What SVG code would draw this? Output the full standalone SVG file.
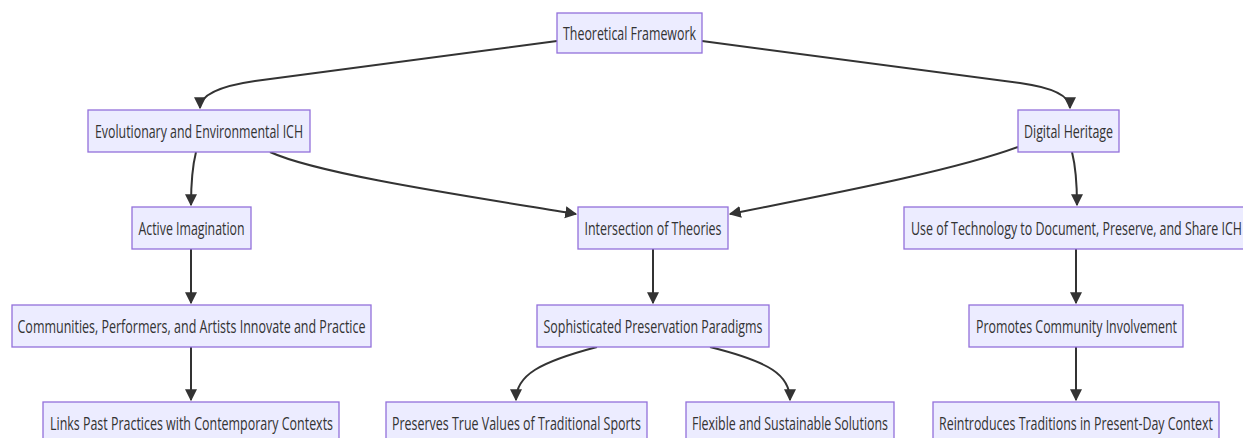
<svg xmlns="http://www.w3.org/2000/svg" width="1243" height="438" viewBox="0 0 1243 438">
<style>
.node rect{fill:#ECECFF;stroke:#9370DB;stroke-width:1.3}
.node text{font-family:"Open Sans","Liberation Sans",sans-serif;font-size:18px;fill:#333;text-anchor:middle}
.edges path{fill:none;stroke:#333;stroke-width:2}
</style>
<defs>
<marker id="arrow" viewBox="0 0 10 10" refX="9" refY="5" markerUnits="userSpaceOnUse" markerWidth="12" markerHeight="14" orient="auto">
<path d="M0,0 L10,5 L0,10 z" fill="#333"/>
</marker>
</defs>
<rect width="1243" height="438" fill="#fff"/>
<g class="edges">
<path marker-end="url(#arrow)" d="M557,41 L255,81 Q200,89 200,108"/>
<path marker-end="url(#arrow)" d="M702,41 L1020,83 Q1070,90 1070,108"/>
<path marker-end="url(#arrow)" d="M196,152 Q191,172 191,205"/>
<path marker-end="url(#arrow)" d="M270,152 C320,175 480,198 576,214"/>
<path marker-end="url(#arrow)" d="M1018,147 C950,172 820,196 730,214"/>
<path marker-end="url(#arrow)" d="M1072,152 Q1077,172 1077,205"/>
<path marker-end="url(#arrow)" d="M191,249 L191,303"/>
<path marker-end="url(#arrow)" d="M653,249 L653,303"/>
<path marker-end="url(#arrow)" d="M1076,249 L1076,303"/>
<path marker-end="url(#arrow)" d="M191,347 L191,400"/>
<path marker-end="url(#arrow)" d="M597,347 C540,362 516,375 516,400"/>
<path marker-end="url(#arrow)" d="M710,347 C770,362 790,375 790,400"/>
<path marker-end="url(#arrow)" d="M1076,347 L1076,400"/>
</g>
<g id="n-theoretical" class="node"><rect x="557" y="13" width="145" height="40"/><text x="629.5" y="39.5" textLength="133" lengthAdjust="spacingAndGlyphs">Theoretical Framework</text></g>
<g id="n-evolutionary" class="node"><rect x="88" y="110" width="222" height="42"/><text x="199" y="137.5" textLength="208" lengthAdjust="spacingAndGlyphs">Evolutionary and Environmental ICH</text></g>
<g id="n-digital" class="node"><rect x="1018" y="110" width="101" height="42"/><text x="1068.5" y="137.5" textLength="89" lengthAdjust="spacingAndGlyphs">Digital Heritage</text></g>
<g id="n-active" class="node"><rect x="132" y="207" width="119" height="42"/><text x="191.5" y="234.5" textLength="106" lengthAdjust="spacingAndGlyphs">Active Imagination</text></g>
<g id="n-intersection" class="node"><rect x="578" y="207" width="150" height="42"/><text x="653" y="234.5" textLength="137" lengthAdjust="spacingAndGlyphs">Intersection of Theories</text></g>
<g id="n-technology" class="node"><rect x="904" y="207" width="346" height="42"/><text x="1076.5" y="234.5" textLength="331" lengthAdjust="spacingAndGlyphs">Use of Technology to Document, Preserve, and Share ICH</text></g>
<g id="n-communities" class="node"><rect x="12" y="305" width="359" height="42"/><text x="191.5" y="332.5" textLength="348" lengthAdjust="spacingAndGlyphs">Communities, Performers, and Artists Innovate and Practice</text></g>
<g id="n-sophisticated" class="node"><rect x="537" y="305" width="232" height="42"/><text x="653" y="332.5" textLength="219" lengthAdjust="spacingAndGlyphs">Sophisticated Preservation Paradigms</text></g>
<g id="n-promotes" class="node"><rect x="969" y="305" width="214" height="42"/><text x="1076.5" y="332.5" textLength="201" lengthAdjust="spacingAndGlyphs">Promotes Community Involvement</text></g>
<g id="n-links" class="node"><rect x="43" y="402" width="296" height="42"/><text x="191.5" y="429.5" textLength="283" lengthAdjust="spacingAndGlyphs">Links Past Practices with Contemporary Contexts</text></g>
<g id="n-preserves" class="node"><rect x="386" y="402" width="261" height="42"/><text x="516.5" y="429.5" textLength="249" lengthAdjust="spacingAndGlyphs">Preserves True Values of Traditional Sports</text></g>
<g id="n-flexible" class="node"><rect x="686" y="402" width="208" height="42"/><text x="790" y="429.5" textLength="196" lengthAdjust="spacingAndGlyphs">Flexible and Sustainable Solutions</text></g>
<g id="n-reintroduces" class="node"><rect x="933" y="402" width="286" height="42"/><text x="1076" y="429.5" textLength="274" lengthAdjust="spacingAndGlyphs">Reintroduces Traditions in Present-Day Context</text></g>
</svg>
